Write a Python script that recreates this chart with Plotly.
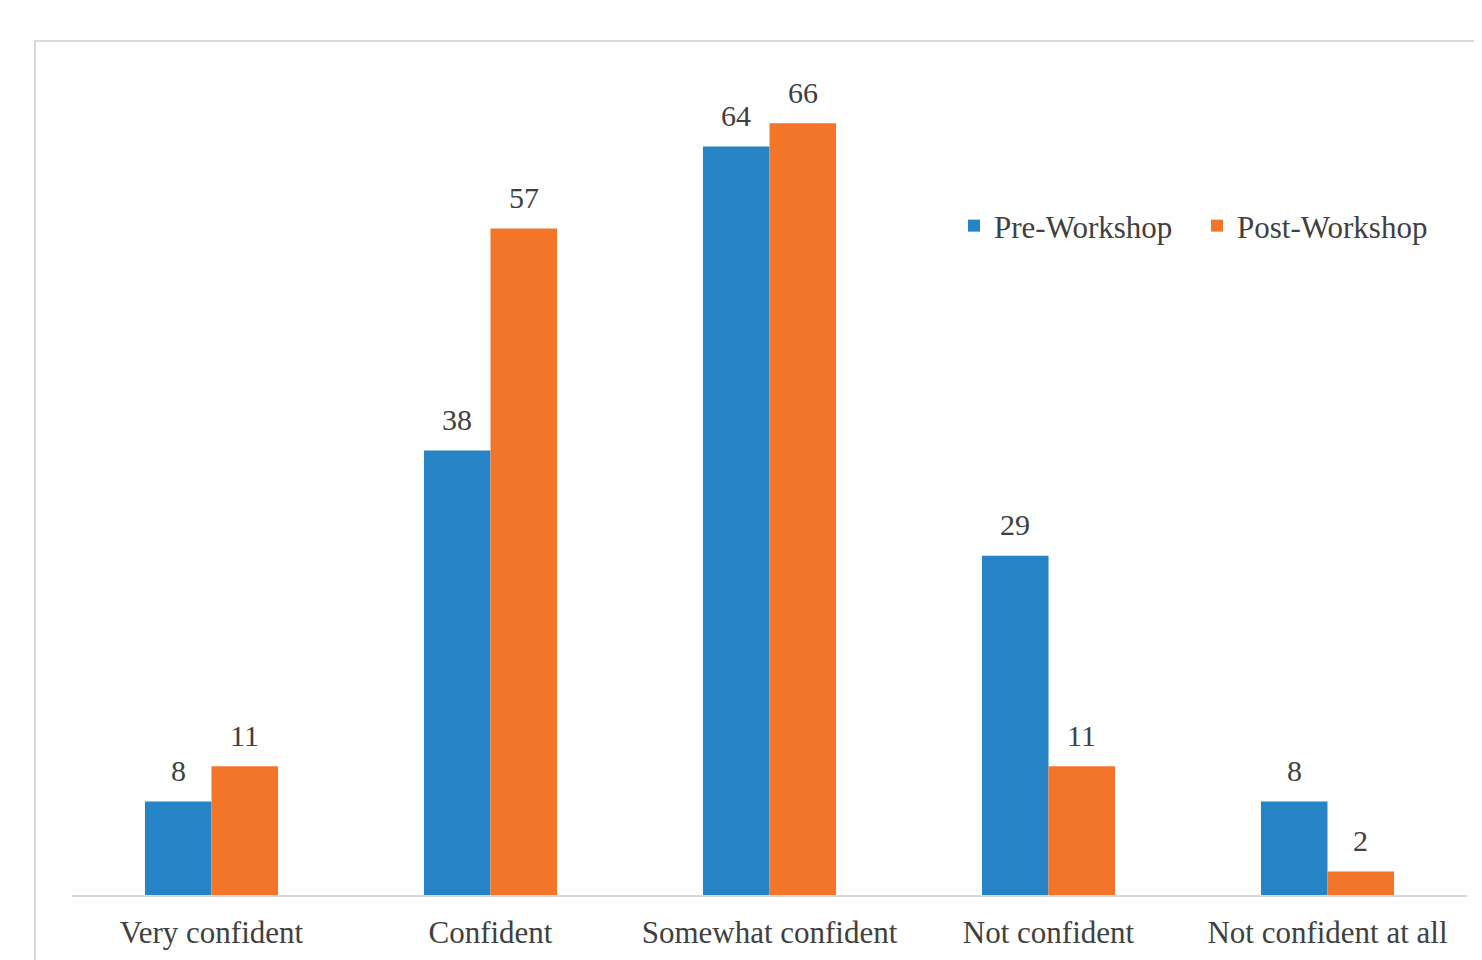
import plotly.graph_objects as go

categories = ["Very confident", "Confident", "Somewhat confident", "Not confident", "Not confident at all"]
pre_workshop = [8, 38, 64, 29, 8]
post_workshop = [11, 57, 66, 11, 2]
series_names = ["Pre-Workshop", "Post-Workshop"]

BLUE = "#2683C6"
ORANGE = "#F2752A"
TEXT = "#404040"
FONT = "Times New Roman, Liberation Serif, Tinos, serif"
FS = 31

OFF = 8  # page body margin
W, H = 1482 - OFF, 960 - OFF
ml, mt = 72 - OFF, 53 - OFF
pw, ph = 1395, 842
mr, mb = W - ml - pw, H - mt - ph

BARGAP = 0.523

fig = go.Figure()
for name, vals, col in zip(series_names, [pre_workshop, post_workshop], [BLUE, ORANGE]):
    fig.add_trace(go.Bar(
        name=name, x=categories, y=vals, marker_color=col, marker_line_width=0,
    ))

# value labels from the data
cat_px = pw / len(categories)
bar_px = cat_px * (1 - BARGAP) / 2
annotations = []
for i, vals in enumerate([pre_workshop, post_workshop]):
    for c, v in zip(categories, vals):
        annotations.append(dict(
            x=c, y=v, xref="x", yref="y", text=str(v), showarrow=False,
            xshift=(i - 0.5) * bar_px, yshift=31, yanchor="middle",
            font=dict(family=FONT, size=30, color=TEXT),
        ))

fig.update_layout(
    width=W, height=H,
    margin=dict(l=ml, r=mr, t=mt, b=mb, autoexpand=False),
    paper_bgcolor="white", plot_bgcolor="white",
    barmode="group", bargap=BARGAP, bargroupgap=0,
    font=dict(family=FONT, size=FS, color=TEXT),
    showlegend=True,
    legend=dict(
        orientation="h", x=(954 - 72) / pw, y=(895 - 226) / ph,
        xanchor="left", yanchor="middle",
        font=dict(family=FONT, size=FS, color=TEXT),
        bgcolor="rgba(0,0,0,0)", itemwidth=30, traceorder="normal",
        entrywidth=198, entrywidthmode="pixels",
    ),
    xaxis=dict(
        showline=True, linecolor="#D9D9D9", linewidth=2,
        ticks="outside", ticklen=9, tickcolor="rgba(0,0,0,0)",
        tickfont=dict(family=FONT, size=FS, color=TEXT),
        showgrid=False, zeroline=False, automargin=False,
    ),
    yaxis=dict(range=[0, 72], visible=False, showgrid=False, zeroline=False,
               automargin=False),
    annotations=annotations,
    shapes=[dict(
        type="rect", xref="paper", yref="paper",
        x0=(35 - 72) / pw, x1=(1482 + 20 - 72) / pw,
        y0=-(40 + 65) / ph, y1=(895 - 41) / ph,
        line=dict(color="#D9D9D9", width=2), fillcolor="rgba(0,0,0,0)",
        layer="below",
    )],
)

fig.write_html("out.html")
